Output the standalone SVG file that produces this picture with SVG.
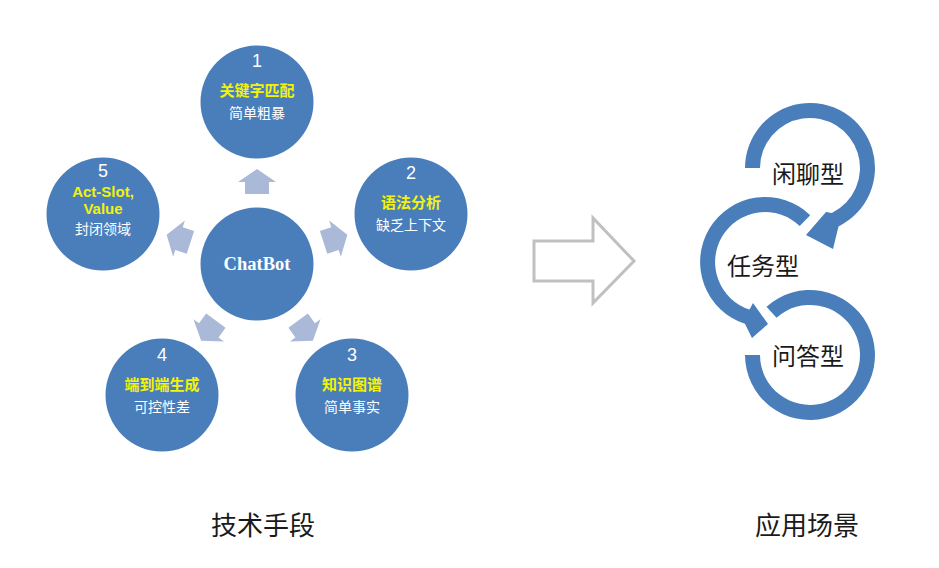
<svg xmlns="http://www.w3.org/2000/svg" width="939" height="568" viewBox="0 0 939 568">
<style>
.node{fill:#4a7ebb}
.num{font-family:"Liberation Sans","Noto Sans CJK SC",sans-serif;font-size:18px;fill:#ffffff;text-anchor:middle}
.key{font-family:"Liberation Sans","Noto Sans CJK SC",sans-serif;font-size:15px;font-weight:bold;fill:#f2f20a;text-anchor:middle}
.sub{font-family:"Liberation Sans","Noto Sans CJK SC",sans-serif;font-size:14px;fill:#ffffff;text-anchor:middle}
.hub{font-family:"Liberation Serif","Times New Roman",serif;font-size:18.5px;font-weight:bold;fill:#ffffff;text-anchor:middle}
.sm{fill:#a9b9d7}
.ring{fill:#4a7ebb}
.lbl{font-family:"Noto Sans CJK SC",sans-serif;font-size:24px;fill:#1a1a1a;text-anchor:middle}
.cap{font-family:"Noto Sans CJK SC",sans-serif;font-size:26px;fill:#1a1a1a;text-anchor:middle}
</style>
<defs>
<polygon id="sarrow" points="257,169 276,182 269,182 269,194 245,194 245,182 238,182"/>
</defs>
<rect width="939" height="568" fill="#ffffff"/>
<g id="connectors">
<use href="#sarrow" class="sm"/>
<use href="#sarrow" class="sm" transform="rotate(72 257 264)"/>
<use href="#sarrow" class="sm" transform="rotate(144 257 264)"/>
<use href="#sarrow" class="sm" transform="rotate(216 257 264)"/>
<use href="#sarrow" class="sm" transform="rotate(288 257 264)"/>
<polygon id="big-arrow" points="534,241 593,241 593,218 634,261 593,303 593,281 534,281" fill="#ffffff" stroke="#c0c0c0" stroke-width="3"/>
</g>
<g id="chatbot">
<circle class="node" cx="257" cy="264" r="56.5"/>
<text class="hub" x="257" y="270">ChatBot</text>
</g>
<g id="node1">
<circle class="node" cx="257" cy="102" r="56.5"/>
<text class="num" x="257" y="67">1</text>
<text class="key" x="257" y="96">关键字匹配</text>
<text class="sub" x="257" y="118">简单粗暴</text>
</g>
<g id="node2">
<circle class="node" cx="411" cy="214" r="56.5"/>
<text class="num" x="411" y="179">2</text>
<text class="key" x="411" y="208">语法分析</text>
<text class="sub" x="411" y="230">缺乏上下文</text>
</g>
<g id="node3">
<circle class="node" cx="352" cy="395" r="56.5"/>
<text class="num" x="352" y="361">3</text>
<text class="key" x="352" y="390">知识图谱</text>
<text class="sub" x="352" y="412">简单事实</text>
</g>
<g id="node4">
<circle class="node" cx="162" cy="395" r="56.5"/>
<text class="num" x="162" y="361">4</text>
<text class="key" x="162" y="390">端到端生成</text>
<text class="sub" x="162" y="412">可控性差</text>
</g>
<g id="node5">
<circle class="node" cx="103" cy="214" r="56.5"/>
<text class="num" x="103" y="177">5</text>
<text class="key" x="103" y="197">Act-Slot,</text>
<text class="key" x="103" y="214">Value</text>
<text class="sub" x="103" y="234">封闭领域</text>
</g>
<g id="scenarios">
<path id="ring-chat" class="ring" d="M 745 168 A 65 65 0 1 1 838.5 226.4 L 833 249 L 806 235 L 826 212 L 831.9 212.9 A 50 50 0 1 0 760 168 Z"/>
<path id="ring-task" class="ring" d="M 810.2 215.2 A 65 65 0 1 0 744.9 323.8 L 752 338 L 768 324 L 753 303 L 749.5 309.6 A 50 50 0 1 1 799.7 226 Z"/>
<path id="ring-qa" class="ring" d="M 766.5 306.7 A 65 65 0 1 1 745 355 L 760 355 A 50 50 0 1 0 776.5 317.8 Z"/>
<text class="lbl" x="808" y="183">闲聊型</text>
<text class="lbl" x="763" y="275">任务型</text>
<text class="lbl" x="808" y="365">问答型</text>
</g>
<g id="captions">
<text class="cap" x="263" y="535">技术手段</text>
<text class="cap" x="807" y="535">应用场景</text>
</g>
</svg>
